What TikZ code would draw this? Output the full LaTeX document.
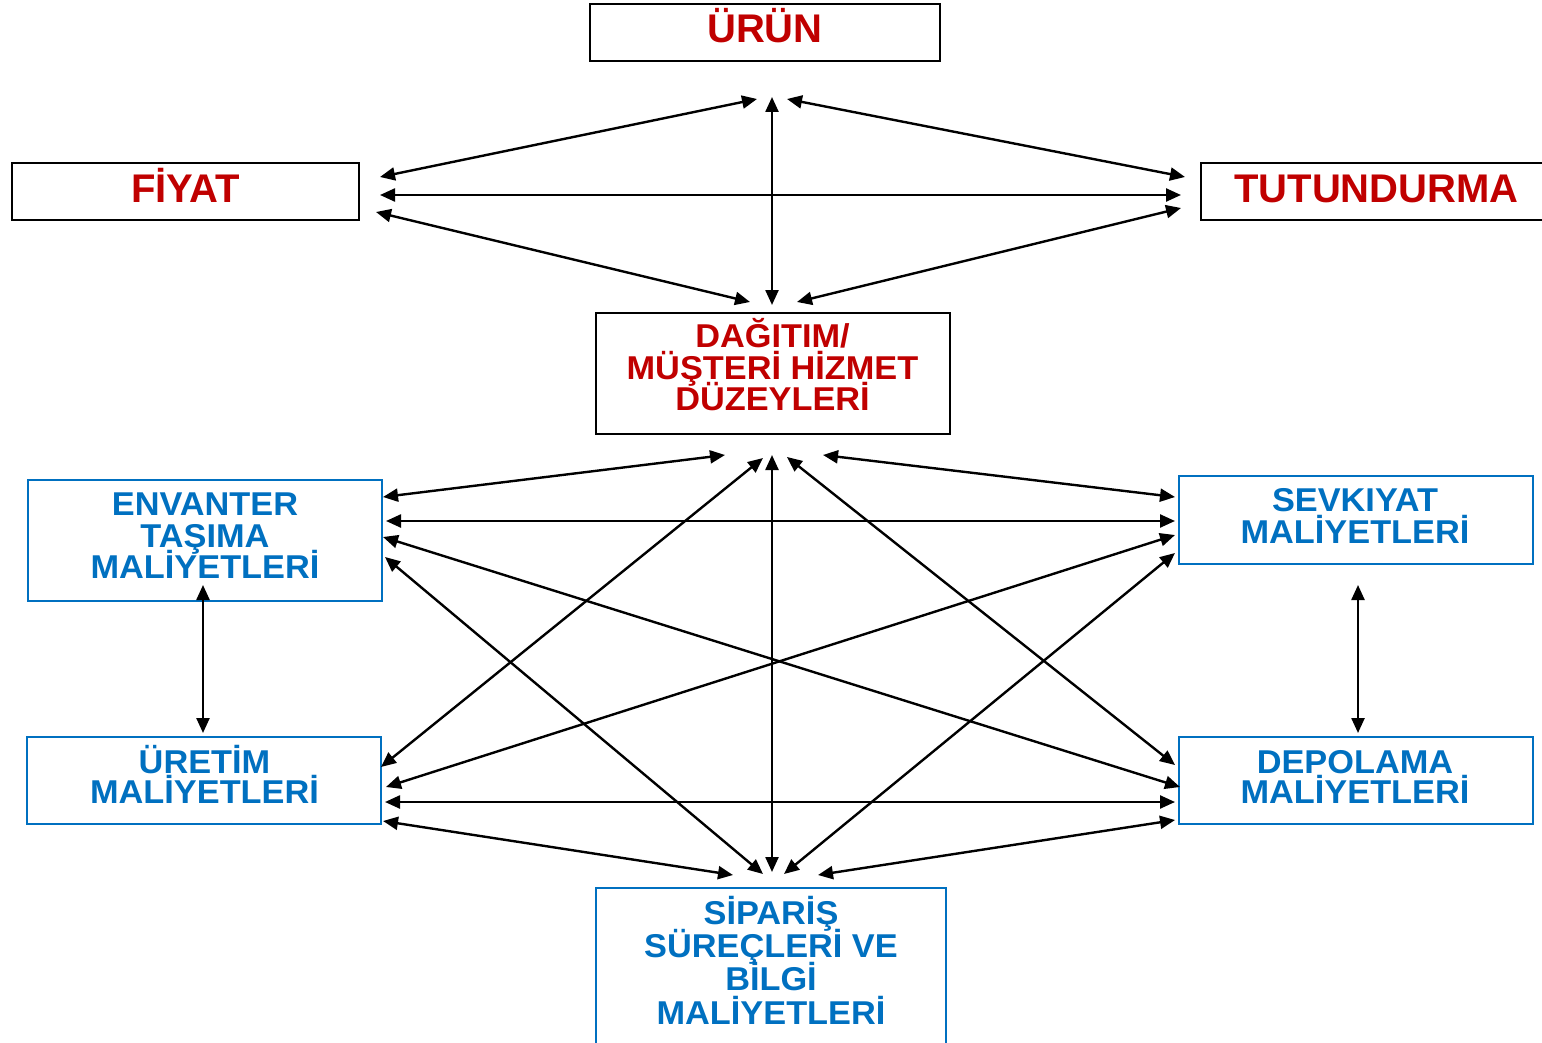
\documentclass[tikz,border=0pt]{standalone}
\usepackage{fontspec}
\setmainfont{Liberation Sans}
\newfontfamily\widesans[FakeStretch=1.04]{Liberation Sans}
\usetikzlibrary{arrows.meta}
\definecolor{rkred}{HTML}{C00000}
\definecolor{rkblue}{HTML}{0070C0}
\newcommand{\rkl}[1]{\smash{#1}}
\setlength{\lineskiplimit}{-100pt}
\setlength{\lineskip}{0pt}
\tikzset{
  blackframe/.style={draw=black,line width=2.6pt,inner sep=0pt},
  blueframe/.style={draw=rkblue,line width=2.2pt,inner sep=0pt},
  onetext/.style={inner sep=0pt,text=rkred,text height=28.6pt,text depth=0pt,
    font=\fontsize{40}{40}\selectfont\bfseries},
  multitext/.style={inner sep=0pt,align=center,
    font=\widesans\fontsize{33}{#1}\selectfont\bfseries},
  link/.style={line width=2.4pt,black,{Triangle[length=15pt,width=13pt]}-{Triangle[length=15pt,width=13pt]}}
}
\begin{document}
\begin{tikzpicture}[x=1pt,y=-1pt]
\useasboundingbox (0,0) rectangle (1542,1043);
% frames
\node[blackframe,minimum width=350,minimum height=57] (urun) at (765,32.5) {};
\node[blackframe,minimum width=347,minimum height=57] (fiyat) at (185.5,191.5) {};
\node[blackframe,minimum width=351,minimum height=57] (tut) at (1376.5,191.5) {};
\node[blackframe,minimum width=354,minimum height=121] (dag) at (773,373.5) {};
\node[blueframe,minimum width=354,minimum height=121] (env) at (205,540.5) {};
\node[blueframe,minimum width=354,minimum height=88] (sev) at (1356,520) {};
\node[blueframe,minimum width=354,minimum height=87] (ure) at (204,780.5) {};
\node[blueframe,minimum width=354,minimum height=87] (dep) at (1356,780.5) {};
\node[blueframe,minimum width=350,minimum height=164] (sip) at (771,970) {};
% texts
\node[onetext] (urunT) at (765,28.5) {ÜRÜN};
\node[onetext] (fiyatT) at (185.5,188) {FİYAT};
\node[onetext] (tutT) at (1376.5,188) {TUTUNDURMA};
\node[multitext=31.5,text=rkred] (dagT) at (772.5,379.3) {\rkl{DAĞITIM/}\\\rkl{MÜŞTERİ HİZMET}\\\rkl{DÜZEYLERİ}};
\node[multitext=31.75,text=rkblue] (envT) at (205,547) {\rkl{ENVANTER}\\\rkl{TAŞIMA}\\\rkl{MALİYETLERİ}};
\node[multitext=31.5,text=rkblue] (sevT) at (1355,527.5) {\rkl{SEVKIYAT}\\\rkl{MALİYETLERİ}};
\node[multitext=30,text=rkblue] (ureT) at (204.5,788.3) {\rkl{ÜRETİM}\\\rkl{MALİYETLERİ}};
\node[multitext=30,text=rkblue] (depT) at (1355,788.3) {\rkl{DEPOLAMA}\\\rkl{MALİYETLERİ}};
\node[multitext=33.3,text=rkblue] (sipT) at (771,974.3) {\rkl{SİPARİŞ}\\\rkl{SÜREÇLERİ VE}\\\rkl{BİLGİ}\\\rkl{MALİYETLERİ}};
% arrow end points
\coordinate (t1a) at (757,99);  \coordinate (t1b) at (380,177);
\coordinate (t2a) at (772,97);  \coordinate (t2b) at (772,305);
\coordinate (t3a) at (787,99);  \coordinate (t3b) at (1185,177);
\coordinate (t4a) at (380,195); \coordinate (t4b) at (1181,195);
\coordinate (t5a) at (376,212); \coordinate (t5b) at (750,302);
\coordinate (t6a) at (797,302); \coordinate (t6b) at (1181,208);
\coordinate (m1a) at (383,497); \coordinate (m1b) at (725,455);
\coordinate (m2a) at (763,458); \coordinate (m2b) at (381,767);
\coordinate (m3a) at (772,455); \coordinate (m3b) at (772,872);
\coordinate (m4a) at (787,457); \coordinate (m4b) at (1175,765);
\coordinate (m5a) at (823,455); \coordinate (m5b) at (1175,497);
\coordinate (m6a) at (386,521); \coordinate (m6b) at (1175,521);
\coordinate (m7a) at (383,537); \coordinate (m7b) at (1180,787);
\coordinate (m8a) at (385,557); \coordinate (m8b) at (763,874);
\coordinate (m9a) at (1175,535); \coordinate (m9b) at (386,787);
\coordinate (m10a) at (1175,553); \coordinate (m10b) at (784,874);
\coordinate (m11a) at (385,802); \coordinate (m11b) at (1175,802);
\coordinate (m12a) at (383,821); \coordinate (m12b) at (733,875);
\coordinate (m13a) at (1175,820); \coordinate (m13b) at (818,875);
\coordinate (m14a) at (203,585); \coordinate (m14b) at (203,733);
\coordinate (m15a) at (1358,585); \coordinate (m15b) at (1358,733);
% arrows
\foreach \n in {t1,t2,t3,t4,t5,t6,m1,m2,m3,m4,m5,m6,m7,m8,m9,m10,m11,m12,m13,m14,m15}
  \draw[link] (\n a) -- (\n b);
\end{tikzpicture}
\end{document}
